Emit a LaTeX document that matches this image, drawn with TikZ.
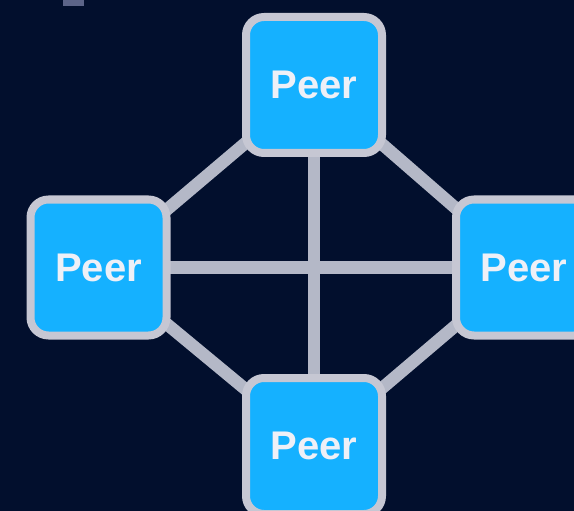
\documentclass[tikz,border=0pt]{standalone}
\usepackage{fontspec}
\setmainfont{Liberation Sans}
\usetikzlibrary{backgrounds}
\definecolor{bgnavy}{HTML}{020F2D}
\definecolor{peerfill}{HTML}{15B1FF}
\definecolor{peerborder}{HTML}{C6C7D3}
\definecolor{linkgrey}{HTML}{B4B8C7}
\definecolor{peertext}{HTML}{EEF0F7}
\definecolor{fragment}{HTML}{5C6488}
\pgfdeclarelayer{bottomlayer}
\pgfsetlayers{bottomlayer,background,main}
\tikzset{
  peer/.style={rectangle, draw=peerborder, fill=peerfill, line width=8pt,
    rounded corners=18pt, minimum width=136pt, minimum height=136pt, inner sep=0pt,
    text=peertext, font=\fontsize{40pt}{44pt}\selectfont\bfseries},
  link/.style={draw=linkgrey, line width=12.5pt}
}
\begin{document}
\begin{tikzpicture}[x=1pt,y=1pt]
\useasboundingbox (0,0) rectangle (574,-511);
\begin{pgfonlayer}{bottomlayer}
  \fill[bgnavy] (0,0) rectangle (574,-511);
  \fill[fragment] (63,0) rectangle (84,-6);
\end{pgfonlayer}
\begin{scope}
\clip (0,0) rectangle (574,-511);
\node[peer] (top) at (314,-85) {Peer};
\node[peer] (left) at (98.5,-267.5) {Peer};
\node[peer] (right) at (524,-267.5) {Peer};
\node[peer] (bottom) at (314,-446) {Peer};
\begin{pgfonlayer}{background}
  \draw[link] (top.center) -- (bottom.center);
  \draw[link] (left.center) -- (right.center);
  \draw[link] (top.center) -- (left.center);
  \draw[link] (top.center) -- (right.center);
  \draw[link] (bottom.center) -- (left.center);
  \draw[link] (bottom.center) -- (right.center);
\end{pgfonlayer}
\end{scope}
\end{tikzpicture}
\end{document}
